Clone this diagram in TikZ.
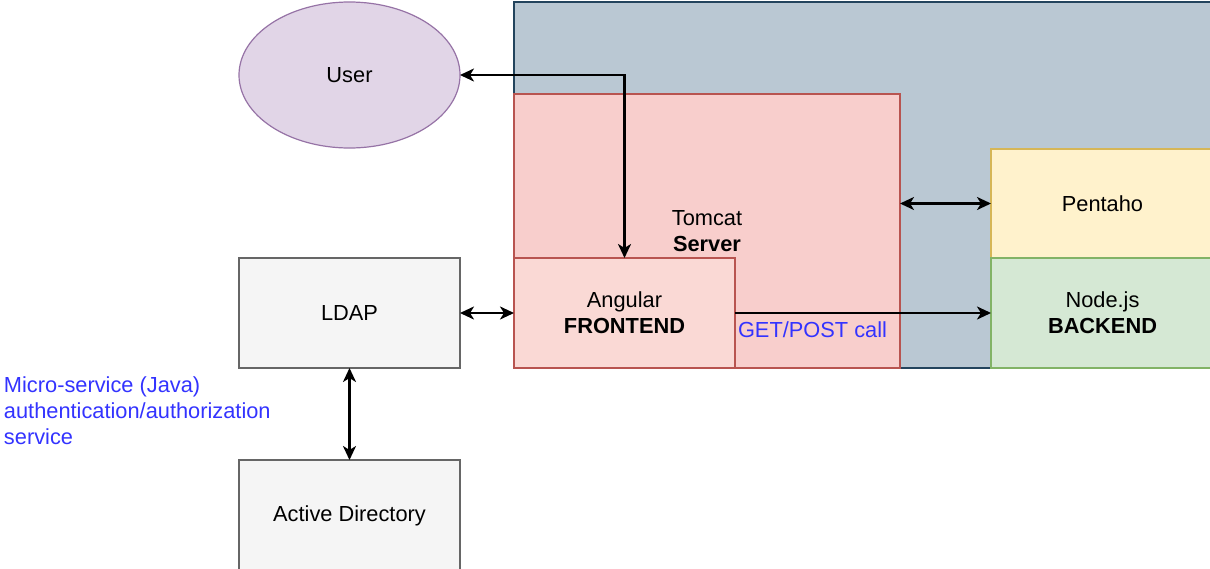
\documentclass[tikz,border=0pt]{standalone}
\usepackage{fontspec}
\setmainfont{Liberation Sans}
\usetikzlibrary{arrows.meta,shapes.geometric}
\definecolor{contfill}{HTML}{BAC8D3}
\definecolor{contdraw}{HTML}{23445D}
\definecolor{redfill}{HTML}{F8CECC}
\definecolor{reddraw}{HTML}{B85450}
\definecolor{angfill}{HTML}{FAD9D5}
\definecolor{userfill}{HTML}{E1D5E7}
\definecolor{userdraw}{HTML}{9673A6}
\definecolor{grayfill}{HTML}{F5F5F5}
\definecolor{graydraw}{HTML}{666666}
\definecolor{yelfill}{HTML}{FFF2CC}
\definecolor{yeldraw}{HTML}{D6B656}
\definecolor{grnfill}{HTML}{D5E8D4}
\definecolor{grndraw}{HTML}{82B366}
\definecolor{labelblue}{HTML}{3333FF}
\begin{document}
\begin{tikzpicture}[x=1pt,y=-1pt,
  every node/.style={font=\fontsize{21.8}{26}\selectfont, align=center, inner sep=0pt, outer sep=0pt},
  box/.style={draw, line width=1.8pt, anchor=north west},
  tip/.style={Stealth[length=14pt,width=13pt,inset=4pt]},
  arr/.style={line width=2.4pt, arrows={-Stealth[length=14pt,width=13pt,inset=4pt]}},
  biarr/.style={line width=2.4pt, arrows={Stealth[length=14pt,width=13pt,inset=4pt]-Stealth[length=14pt,width=13pt,inset=4pt]}},
  note/.style={text=labelblue}]
\useasboundingbox (0,0) rectangle (1210,568);
\node[box, fill=contfill, draw=contdraw, minimum width=700, minimum height=366] (cont) at (514,2) {};
\node[box, fill=redfill, draw=reddraw, minimum width=386, minimum height=274] (tomcat) at (514,94) {Tomcat\\\textbf{Server}};
\node[box, fill=angfill, draw=reddraw, minimum width=221, minimum height=110] (ang) at (514,258) {Angular\\\textbf{FRONTEND}};
\node[box, fill=yelfill, draw=yeldraw, minimum width=223, minimum height=109] (pent) at (991,149) {Pentaho};
\node[box, fill=grnfill, draw=grndraw, minimum width=223, minimum height=110] (nodejs) at (991,258) {Node.js\\\textbf{BACKEND}};
\node[draw=userdraw, fill=userfill, line width=1.2pt, ellipse, minimum width=221, minimum height=146] (user) at (349.5,75) {User};
\node[box, fill=grayfill, draw=graydraw, minimum width=221, minimum height=110] (ldap) at (239,258) {LDAP};
\node[box, fill=grayfill, draw=graydraw, minimum width=221, minimum height=112] (ad) at (239,460) {Active Directory};
\draw[biarr] (user.east) -| (ang.north);
\draw[biarr] (ldap.east) -- (ang.west);
\draw[biarr] (ldap.south) -- (ad.north);
\draw[biarr] (pent.west -| tomcat.east) -- (pent.west);
\draw[arr] (ang.east) -- (nodejs.west);
\node[note, anchor=west] (getpost) at (738,330) {GET/POST call};
\node[note, anchor=west, align=left] (micro) at (4,411) {Micro-service (Java)\\authentication/authorization\\service};
\end{tikzpicture}
\end{document}
